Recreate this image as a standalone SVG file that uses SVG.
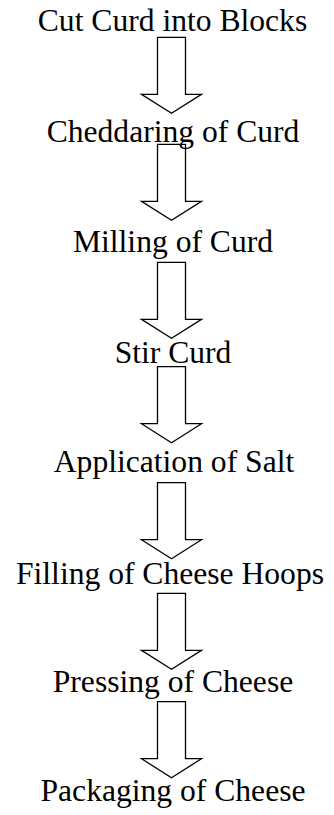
<svg xmlns="http://www.w3.org/2000/svg" width="334" height="815" viewBox="0 0 334 815">
<style>
  .arr { fill: none; stroke: #000; stroke-width: 1.3; stroke-linejoin: miter; }
</style>
<defs>
  <path id="blockArrow" class="arr" d="M157.5,0 H185.5 V57 H201.5 L171.5,76 L141.5,57 H157.5 Z"/>
</defs>
<rect width="334" height="815" fill="#fff"/>
<g id="connectors">
  <use href="#blockArrow" transform="translate(0,37.3)"/>
  <use href="#blockArrow" transform="translate(0,144.3)"/>
  <use href="#blockArrow" transform="translate(0,262.3)"/>
  <use href="#blockArrow" transform="translate(0,366.7)"/>
  <use href="#blockArrow" transform="translate(0,482.7)"/>
  <use href="#blockArrow" transform="translate(0,593.3)"/>
  <use href="#blockArrow" transform="translate(0,701.7)"/>
</g>
<g font-family="'Liberation Serif', 'Times New Roman', serif" font-size="31.6" text-anchor="middle" fill="#000">
<g id="node-cut"><text x="172.5" y="30.5">Cut Curd into Blocks</text></g>
<g id="node-cheddaring"><text x="173" y="141.7">Cheddaring of Curd</text></g>
<g id="node-milling"><text x="173" y="251.7">Milling of Curd</text></g>
<g id="node-stir"><text x="173" y="362.7">Stir Curd</text></g>
<g id="node-salt"><text x="174" y="471.7">Application of Salt</text></g>
<g id="node-filling"><text x="170" y="584">Filling of Cheese Hoops</text></g>
<g id="node-pressing"><text x="173" y="691.7">Pressing of Cheese</text></g>
<g id="node-packaging"><text x="173" y="800.7">Packaging of Cheese</text></g>
</g>
</svg>
